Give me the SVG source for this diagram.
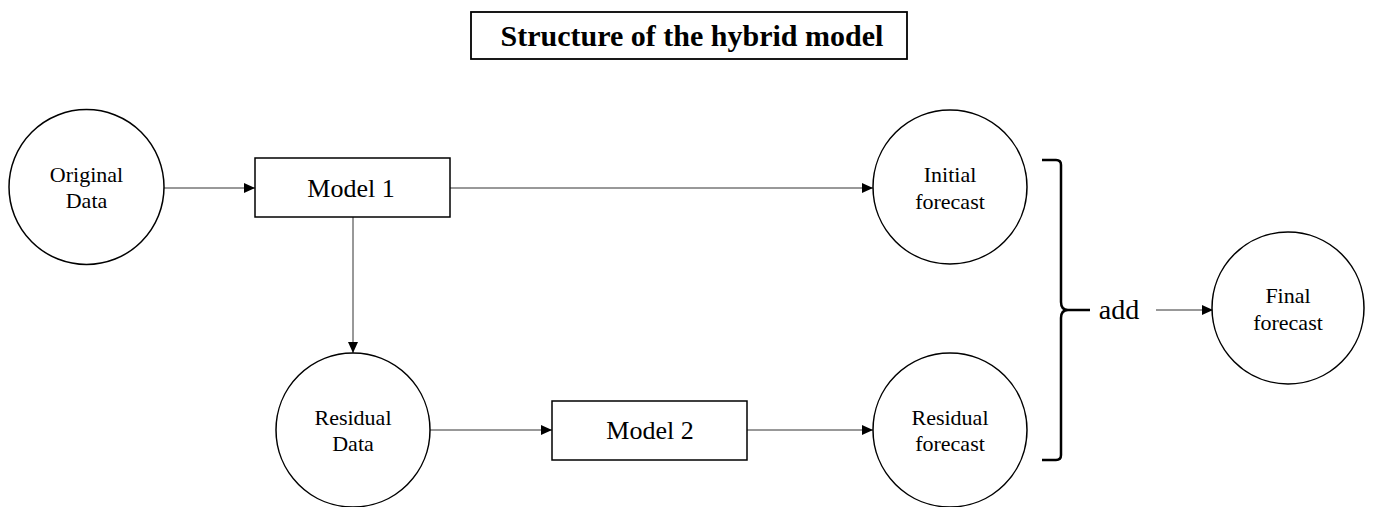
<svg xmlns="http://www.w3.org/2000/svg" width="1374" height="507" viewBox="0 0 1374 507">
<style>
.node{fill:#fff;stroke:#000;stroke-width:1.5}
.lbl{font-family:"Liberation Serif",serif;font-size:22px;fill:#000;text-anchor:middle}
.box{font-family:"Liberation Serif",serif;font-size:26px;fill:#000;text-anchor:middle}
.conn{stroke:#333;stroke-width:1;fill:none}
</style>
<defs>
<marker id="arr" markerWidth="12" markerHeight="10" refX="11" refY="5" orient="auto" markerUnits="userSpaceOnUse">
<path d="M0,0 L11,5 L0,10 Z" fill="#000"/>
</marker>
</defs>
<rect width="1374" height="507" fill="#fff"/>
<g id="title">
<rect x="471" y="12" width="436" height="47" fill="#fff" stroke="#000" stroke-width="1.8"/>
<text x="692" y="46" style="font-family:'Liberation Serif',serif;font-size:30px;font-weight:bold;text-anchor:middle">Structure of the hybrid model</text>
</g>
<g id="connectors">
<line class="conn" x1="164" y1="188" x2="255" y2="188" marker-end="url(#arr)"/>
<line class="conn" x1="450" y1="188" x2="873" y2="188" marker-end="url(#arr)"/>
<line class="conn" x1="353" y1="217" x2="353" y2="353" marker-end="url(#arr)"/>
<line class="conn" x1="430" y1="430" x2="552" y2="430" marker-end="url(#arr)"/>
<line class="conn" x1="747" y1="430" x2="873" y2="430" marker-end="url(#arr)"/>
<line class="conn" x1="1156" y1="310" x2="1213" y2="310" marker-end="url(#arr)"/>
</g>
<g id="original-data">
<circle class="node" cx="86.5" cy="187" r="77.5"/>
<text class="lbl" x="86.5" y="182">Original</text>
<text class="lbl" x="86.5" y="208">Data</text>
</g>
<g id="model-1">
<rect class="node" x="255" y="158" width="195" height="59"/>
<text class="box" x="351" y="197">Model 1</text>
</g>
<g id="residual-data">
<circle class="node" cx="353" cy="430" r="77"/>
<text class="lbl" x="353" y="425">Residual</text>
<text class="lbl" x="353" y="451">Data</text>
</g>
<g id="model-2">
<rect class="node" x="552" y="401" width="195" height="59"/>
<text class="box" x="650" y="439">Model 2</text>
</g>
<g id="initial-forecast">
<circle class="node" cx="950" cy="187" r="77"/>
<text class="lbl" x="950" y="182">Initial</text>
<text class="lbl" x="950" y="209">forecast</text>
</g>
<g id="residual-forecast">
<circle class="node" cx="950" cy="430" r="77"/>
<text class="lbl" x="950" y="425">Residual</text>
<text class="lbl" x="950" y="451">forecast</text>
</g>
<g id="add">
<path d="M1042,160 L1056,160 Q1061,160 1061,165 L1061,302 Q1061,310 1068,310 L1090,310 M1068,310 Q1061,310 1061,318 L1061,455 Q1061,460 1056,460 L1042,460" fill="none" stroke="#000" stroke-width="2.5"/>
<text x="1119" y="319" style="font-family:'Liberation Serif',serif;font-size:28px;text-anchor:middle">add</text>
</g>
<g id="final-forecast">
<circle class="node" cx="1288" cy="308" r="76"/>
<text class="lbl" x="1288" y="303">Final</text>
<text class="lbl" x="1288" y="330">forecast</text>
</g>
</svg>
